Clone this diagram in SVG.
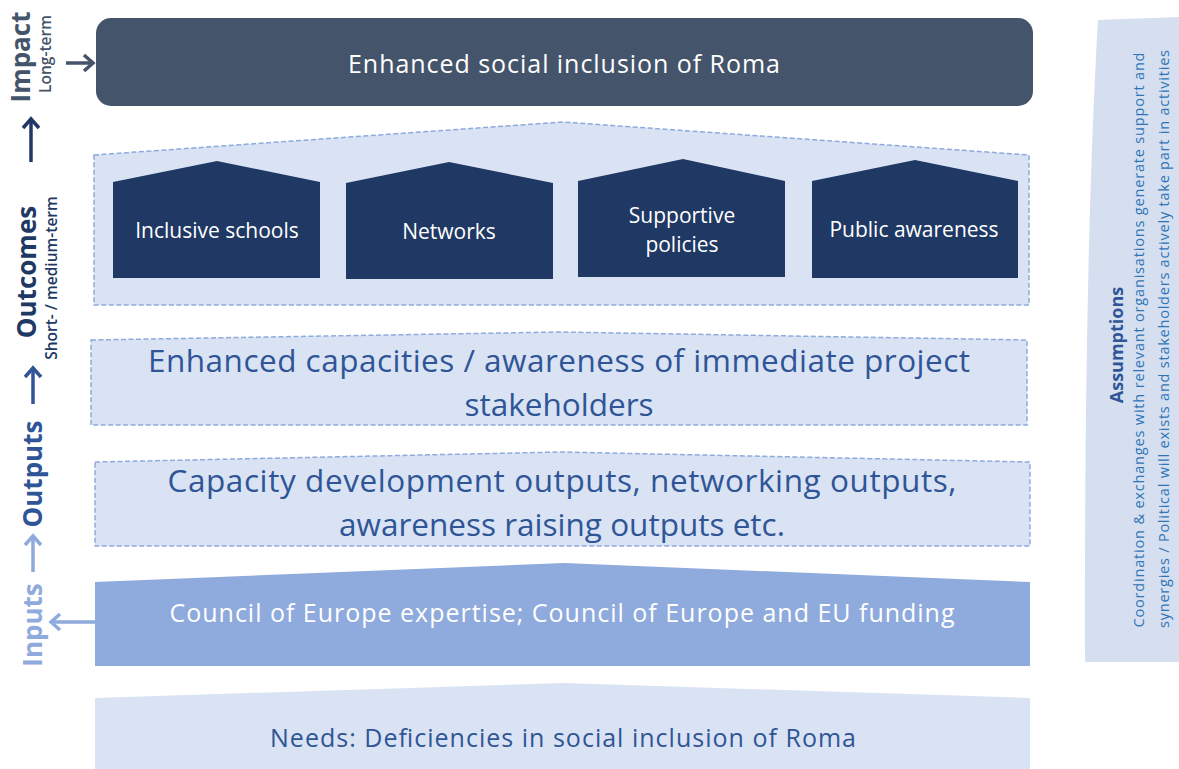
<svg xmlns="http://www.w3.org/2000/svg" width="1179" height="769" viewBox="0 0 1179 769">
  <defs>
    <style>
      text { font-family: "Open Sans", "Liberation Sans", sans-serif; }
      .lvl { font-weight: 700; font-size: 26px; text-anchor: middle; }
      .sub { font-weight: 600; font-size: 15.5px; text-anchor: middle; }
      .dash { fill: #dae3f3; stroke: #8faadc; stroke-width: 1.5; stroke-dasharray: 5 2.5; }
      .house { fill: #203864; }
      .houseTxt { fill: #ffffff; font-size: 21px; text-anchor: middle; }
      .big { fill: #2f5597; font-size: 31.5px; text-anchor: middle; }
      .mid { font-size: 25px; text-anchor: middle; }
      .conn { fill: none; stroke-width: 3.5; stroke-linecap: butt; }
      .head { fill: none; stroke-width: 3.5; stroke-linejoin: miter; stroke-linecap: butt; }
    </style>
  </defs>

  <rect width="1179" height="769" fill="#ffffff"/>

  <!-- assumptions band on the right -->
  <g id="assumptions">
    <path d="M1098,20 L1179,17 L1179,662 L1085,662 Q1084,260 1098,20 Z" fill="#d6dff0"/>
    <text transform="translate(1123,345) rotate(-90)" font-size="18" font-weight="700" fill="#2f5597" text-anchor="middle">Assumptions</text>
    <text transform="translate(1144,340) rotate(-90)" font-size="14.5" fill="#2e75b6" text-anchor="middle" textLength="575">Coordination &amp; exchanges with relevant organisations generate support and</text>
    <text transform="translate(1169,339) rotate(-90)" font-size="14.5" fill="#2e75b6" text-anchor="middle" textLength="578">synergies / Political will exists and stakeholders actively take part in activities</text>
  </g>

  <!-- level labels on the left -->
  <g id="level-labels">
    <text class="lvl" fill="#44546a" transform="translate(30,57) rotate(-90)">Impact</text>
    <text class="sub" fill="#44546a" transform="translate(51,54) rotate(-90)">Long-term</text>
    <text class="lvl" fill="#203864" transform="translate(36,272) rotate(-90)">Outcomes</text>
    <text class="sub" fill="#203864" transform="translate(57,278) rotate(-90)">Short- / medium-term</text>
    <text class="lvl" fill="#2f5597" transform="translate(42,474) rotate(-90)">Outputs</text>
    <text class="lvl" fill="#8faadc" transform="translate(42,625) rotate(-90)">Inputs</text>
  </g>

  <!-- arrows between levels: shaft plus chevron head -->
  <g id="connectors">
    <g stroke="#44546a">
      <line class="conn" x1="66" y1="63" x2="92" y2="63"/>
      <path class="head" d="M84,55 L93,63 L84,71"/>
    </g>
    <g stroke="#203864">
      <line class="conn" x1="31" y1="162" x2="31" y2="119"/>
      <path class="head" d="M23,128 L31,119 L39,128"/>
    </g>
    <g stroke="#2f5597">
      <line class="conn" x1="33" y1="404" x2="33" y2="368"/>
      <path class="head" d="M25,377 L33,368 L41,377"/>
    </g>
    <g stroke="#8faadc">
      <line class="conn" x1="33" y1="572" x2="33" y2="536"/>
      <path class="head" d="M25,545 L33,536 L41,545"/>
    </g>
    <g stroke="#8faadc">
      <line class="conn" x1="96" y1="622" x2="51" y2="622"/>
      <path class="head" d="M60,614 L51,622 L60,630"/>
    </g>
  </g>

  <!-- impact -->
  <g id="impact">
    <rect x="96" y="18" width="937" height="88" rx="15" fill="#44546a"/>
    <text class="mid" x="564" y="73" fill="#ffffff" textLength="432">Enhanced social inclusion of Roma</text>
  </g>

  <!-- outcomes frame with four pillars -->
  <g id="outcomes">
    <path class="dash" d="M94,155 L563,122 L1029,155 L1029,305 L94,305 Z"/>
  </g>
  <g id="inclusive-schools">
    <path class="house" d="M113,182 L217,161 L320,182 L320,278 L113,278 Z"/>
    <text class="houseTxt" x="217" y="238">Inclusive schools</text>
  </g>
  <g id="networks">
    <path class="house" d="M346,183 L449,162 L553,183 L553,279 L346,279 Z"/>
    <text class="houseTxt" x="449" y="239">Networks</text>
  </g>
  <g id="supportive-policies">
    <path class="house" d="M578,181 L683,159 L785,181 L785,277 L578,277 Z"/>
    <text class="houseTxt" x="682" y="223">Supportive</text>
    <text class="houseTxt" x="682" y="252">policies</text>
  </g>
  <g id="public-awareness">
    <path class="house" d="M812,181 L915,160 L1018,181 L1018,278 L812,278 Z"/>
    <text class="houseTxt" x="914" y="237">Public awareness</text>
  </g>

  <!-- intermediate outcomes -->
  <g id="capacities">
    <path class="dash" d="M91,340 L560,332 L1027,340 L1027,425 L91,425 Z"/>
    <text class="big" x="559" y="372" textLength="822">Enhanced capacities / awareness of immediate project</text>
    <text class="big" x="559" y="416">stakeholders</text>
  </g>

  <!-- outputs -->
  <g id="outputs">
    <path class="dash" d="M95,462 L562,452 L1030,462 L1030,546 L95,546 Z"/>
    <text class="big" x="562" y="492" textLength="789">Capacity development outputs, networking outputs,</text>
    <text class="big" x="562" y="536">awareness raising outputs etc.</text>
  </g>

  <!-- inputs -->
  <g id="inputs">
    <path d="M95,582 L564,563 L1030,582 L1030,666 L95,666 Z" fill="#8faadc"/>
    <text class="mid" x="562" y="622" fill="#ffffff" textLength="785">Council of Europe expertise; Council of Europe and EU funding</text>
  </g>

  <!-- needs -->
  <g id="needs">
    <path d="M95,698 L564,683 L1030,698 L1030,769 L95,769 Z" fill="#dae3f3"/>
    <text class="mid" x="563" y="747" fill="#2f5597" textLength="586">Needs: Deficiencies in social inclusion of Roma</text>
  </g>
</svg>
